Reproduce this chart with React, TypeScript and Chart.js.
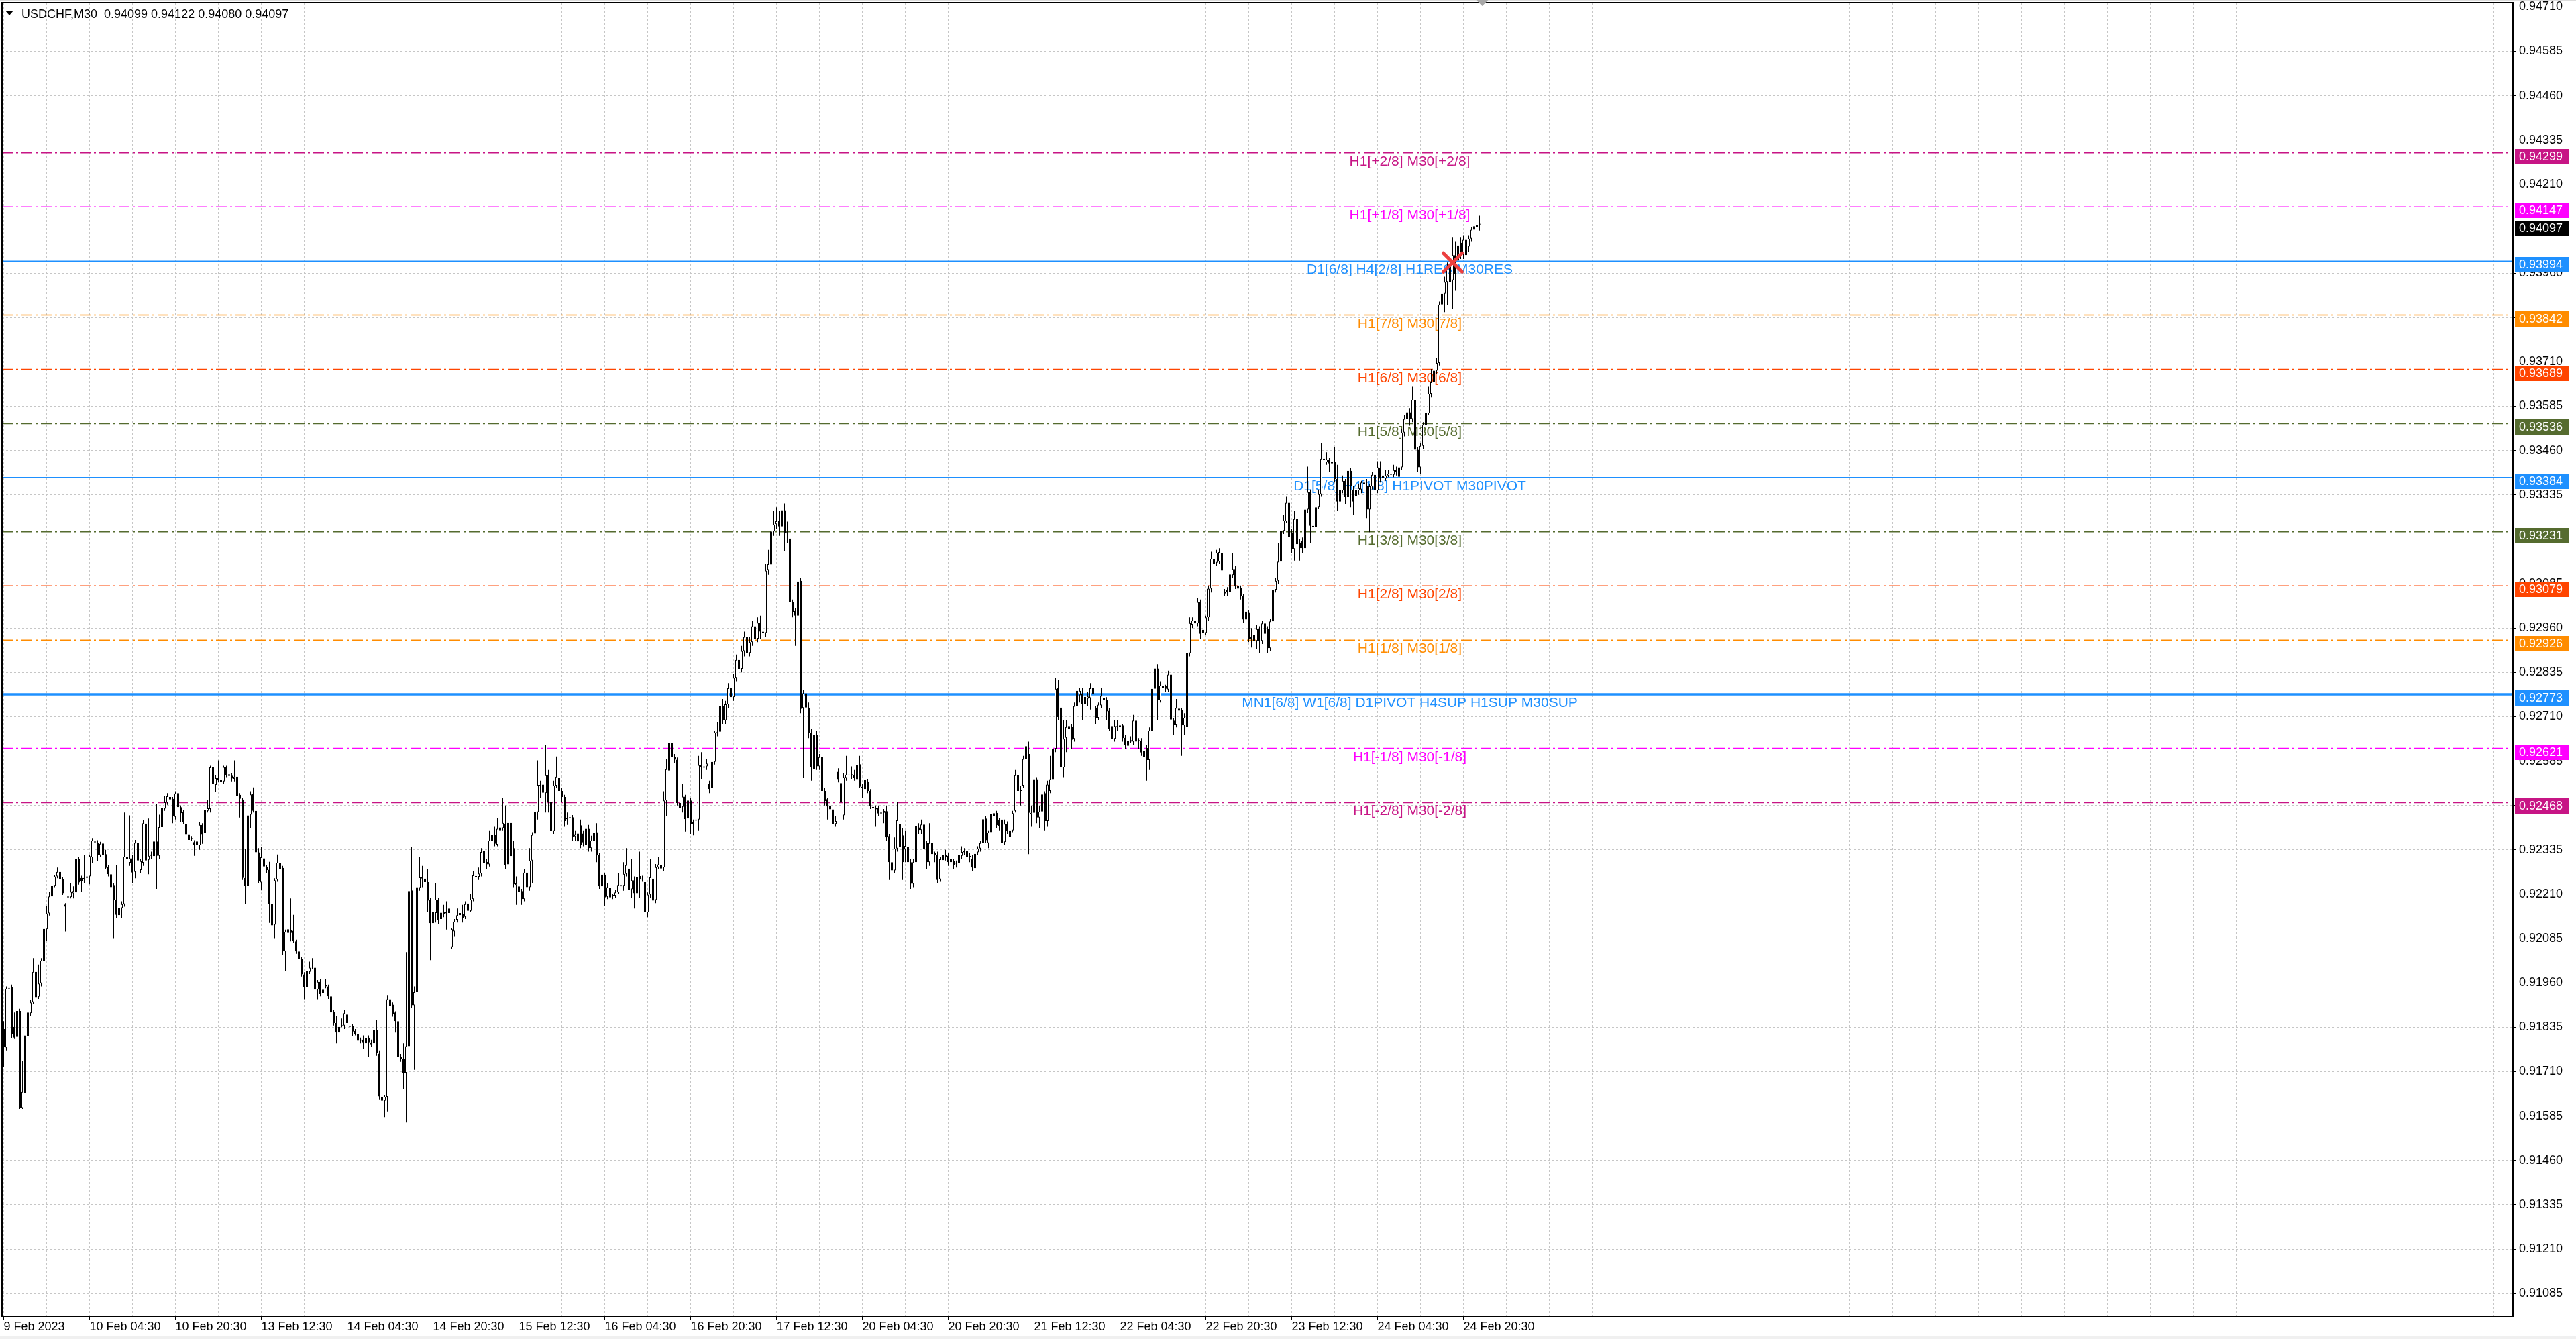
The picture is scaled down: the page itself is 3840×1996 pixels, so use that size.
import React, { useEffect, useRef } from "react";
import { Chart, registerables } from "chart.js";

Chart.register(...registerables);

// ---------------- DATA (USDCHF, M30) ----------------
const OPEN = [
.91830,.91778,.91944,.91948,.91836,.91808,.91881,.91608,.91649,.91810,
.91875,.91906,.91991,.91921,.91959,.92023,.92111,.92156,.92204,.92234,
.92260,.92273,.92253,.92181,.92201,.92202,.92213,.92215,.92309,.92256,
.92253,.92256,.92260,.92314,.92359,.92355,.92320,.92353,.92323,.92287,
.92266,.92236,.92193,.92151,.92171,.92182,.92316,.92299,.92311,.92273,
.92355,.92278,.92299,.92409,.92307,.92318,.92317,.92359,.92318,.92399,
.92451,.92469,.92484,.92479,.92428,.92495,.92455,.92441,.92408,.92379,
.92368,.92357,.92348,.92348,.92405,.92382,.92445,.92450,.92568,.92518,
.92539,.92533,.92528,.92567,.92548,.92544,.92535,.92541,.92490,.92477,
.92256,.92234,.92434,.92492,.92445,.92328,.92243,.92311,.92287,.92279,
.92182,.92124,.92251,.92299,.92284,.92049,.92101,.92109,.92107,.92077,
.92049,.92027,.91984,.91948,.91991,.92004,.92003,.91941,.91963,.91932,
.91950,.91950,.91922,.91879,.91847,.91820,.91838,.91840,.91871,.91838,
.91838,.91825,.91817,.91797,.91800,.91790,.91806,.91791,.91790,.91827,
.91761,.91639,.91628,.91639,.91914,.91899,.91877,.91852,.91752,.91745,
.91707,.91782,.92221,.91897,.91934,.92228,.92257,.92254,.92244,.92194,
.92128,.92157,.92195,.92140,.92159,.92156,.92157,.92061,.92105,.92138,
.92151,.92155,.92146,.92184,.92163,.92196,.92258,.92259,.92268,.92331,
.92301,.92294,.92361,.92377,.92350,.92390,.92396,.92407,.92294,.92411,
.92340,.92236,.92232,.92219,.92196,.92271,.92230,.92305,.92381,.92441,
.92518,.92519,.92495,.92545,.92470,.92388,.92516,.92539,.92501,.92484,
.92425,.92425,.92427,.92373,.92381,.92404,.92381,.92348,.92394,.92340,
.92361,.92385,.92321,.92232,.92265,.92203,.92228,.92205,.92206,.92215,
.92236,.92234,.92267,.92282,.92224,.92249,.92213,.92261,.92251,.92244,
.92159,.92209,.92254,.92194,.92286,.92292,.92285,.92474,.92558,.92637,
.92596,.92589,.92467,.92456,.92485,.92423,.92474,.92413,.92417,.92420,
.92574,.92566,.92570,.92522,.92510,.92583,.92666,.92668,.92740,.92700,
.92745,.92790,.92765,.92820,.92870,.92845,.92895,.92935,.92890,.92920,
.92965,.92930,.92975,.92950,.92946,.93124,.93139,.93232,.93253,.93261,
.93246,.93292,.93228,.93212,.93033,.93008,.92995,.93093,.92735,.92776,
.92736,.92665,.92563,.92658,.92570,.92596,.92501,.92478,.92460,.92449,
.92408,.92555,.92523,.92432,.92538,.92547,.92545,.92545,.92534,.92576,
.92513,.92506,.92528,.92501,.92456,.92454,.92454,.92437,.92445,.92444,
.92374,.92300,.92277,.92339,.92408,.92376,.92337,.92343,.92300,.92239,
.92300,.92398,.92391,.92406,.92354,.92300,.92354,.92326,.92321,.92252,
.92306,.92320,.92318,.92308,.92303,.92296,.92297,.92318,.92328,.92333,
.92316,.92310,.92283,.92328,.92339,.92354,.92423,.92354,.92385,.92431,
.92439,.92418,.92420,.92357,.92408,.92372,.92390,.92445,.92545,.92505,
.92516,.92590,.92605,.92435,.92439,.92534,.92426,.92443,.92495,.92416,
.92501,.92534,.92620,.92790,.92736,.92567,.92651,.92676,.92681,.92648,
.92740,.92771,.92775,.92746,.92761,.92763,.92775,.92736,.92707,.92742,
.92763,.92757,.92727,.92684,.92648,.92684,.92682,.92686,.92651,.92628,
.92640,.92640,.92699,.92641,.92642,.92613,.92622,.92588,.92671,.92789,
.92846,.92756,.92790,.92796,.92787,.92829,.92699,.92688,.92733,.92729,
.92686,.92682,.92889,.92970,.92981,.92973,.93033,.92955,.92946,.92990,
.93071,.93155,.93144,.93147,.93172,.93057,.93066,.93061,.93109,.93126,
.93080,.93073,.93050,.93006,.93003,.92935,.92941,.92924,.92957,.92924,
.92973,.92957,.92903,.92979,.93068,.93093,.93147,.93234,.93261,.93313,
.93229,.93183,.93267,.93201,.93205,.93185,.93294,.93343,.93248,.93245,
.93300,.93337,.93433,.93427,.93435,.93424,.93428,.93380,.93316,.93348,
.93375,.93329,.93403,.93350,.93332,.93348,.93350,.93370,.93359,.93294,
.93359,.93392,.93348,.93411,.93382,.93381,.93390,.93395,.93392,.93405,
.93386,.93413,.93511,.93549,.93568,.93549,.93603,.93462,.93413,.93473,
.93533,.93565,.93620,.93652,.93685,.93707,.93872,.93902,.93935,.93978,
.93940,.94011,.93995,.94046,.94016,.94054,.94035,.94057,.94082,.94090,
.94099,
];

const HIGH = [
.91852,.91950,.92019,.91955,.91877,.91889,.91887,.91740,.91838,.91881,
.91912,.92030,.92039,.92012,.92030,.92124,.92178,.92217,.92240,.92264,
.92285,.92280,.92258,.92185,.92213,.92241,.92232,.92316,.92315,.92262,
.92320,.92305,.92322,.92368,.92376,.92362,.92358,.92360,.92335,.92292,
.92270,.92240,.92292,.92180,.92190,.92440,.92337,.92432,.92320,.92363,
.92362,.92310,.92419,.92440,.92423,.92330,.92441,.92464,.92434,.92460,
.92488,.92495,.92495,.92484,.92500,.92531,.92460,.92447,.92412,.92384,
.92374,.92362,.92393,.92412,.92410,.92455,.92475,.92572,.92597,.92545,
.92587,.92540,.92572,.92572,.92555,.92550,.92587,.92560,.92495,.92480,
.92337,.92440,.92500,.92511,.92512,.92340,.92344,.92340,.92292,.92301,
.92188,.92255,.92322,.92346,.92290,.92110,.92118,.92198,.92152,.92082,
.92055,.92033,.91990,.92000,.92020,.92030,.92010,.91968,.91970,.91960,
.91970,.91955,.91928,.91884,.91866,.91840,.91860,.91884,.91876,.91845,
.91843,.91830,.91822,.91806,.91812,.91812,.91812,.91800,.91860,.91855,
.91770,.91645,.91645,.91926,.91951,.91905,.91880,.91856,.91760,.91790,
.92047,.92250,.92343,.91950,.92300,.92315,.92290,.92282,.92280,.92200,
.92190,.92240,.92200,.92163,.92180,.92190,.92175,.92115,.92140,.92170,
.92165,.92180,.92190,.92195,.92210,.92275,.92270,.92285,.92340,.92390,
.92310,.92390,.92395,.92400,.92425,.92455,.92481,.92460,.92460,.92440,
.92360,.92260,.92240,.92225,.92280,.92280,.92340,.92385,.92630,.92587,
.92530,.92560,.92630,.92560,.92515,.92530,.92598,.92550,.92510,.92490,
.92440,.92435,.92433,.92390,.92395,.92420,.92390,.92410,.92405,.92375,
.92410,.92410,.92325,.92270,.92270,.92240,.92233,.92212,.92222,.92270,
.92245,.92300,.92340,.92320,.92310,.92260,.92300,.92330,.92262,.92265,
.92215,.92310,.92262,.92295,.92315,.92300,.92500,.92590,.92720,.92660,
.92605,.92595,.92470,.92520,.92490,.92485,.92480,.92420,.92430,.92600,
.92610,.92610,.92590,.92530,.92590,.92670,.92695,.92750,.92760,.92755,
.92805,.92810,.92830,.92885,.92890,.92910,.92950,.92945,.92935,.92980,
.92975,.92990,.92995,.92965,.93140,.93180,.93240,.93290,.93300,.93290,
.93323,.93311,.93260,.93230,.93040,.93015,.93118,.93100,.92785,.92790,
.92750,.92675,.92680,.92670,.92605,.92600,.92510,.92482,.92465,.92453,
.92430,.92565,.92530,.92550,.92600,.92580,.92570,.92560,.92594,.92600,
.92520,.92548,.92535,.92506,.92465,.92460,.92460,.92450,.92450,.92460,
.92380,.92310,.92370,.92470,.92440,.92395,.92390,.92350,.92310,.92310,
.92445,.92410,.92420,.92413,.92360,.92410,.92360,.92330,.92330,.92315,
.92330,.92335,.92325,.92315,.92310,.92305,.92330,.92345,.92340,.92340,
.92325,.92320,.92330,.92345,.92360,.92470,.92430,.92390,.92455,.92445,
.92445,.92425,.92430,.92420,.92415,.92400,.92445,.92560,.92590,.92515,
.92600,.92721,.92640,.92460,.92560,.92540,.92460,.92525,.92500,.92530,
.92600,.92660,.92820,.92815,.92750,.92700,.92700,.92710,.92690,.92750,
.92820,.92790,.92790,.92775,.92780,.92805,.92800,.92740,.92750,.92790,
.92775,.92765,.92735,.92690,.92700,.92700,.92700,.92690,.92660,.92650,
.92655,.92715,.92705,.92650,.92650,.92620,.92630,.92680,.92870,.92858,
.92858,.92810,.92805,.92800,.92840,.92840,.92705,.92760,.92740,.92735,
.92720,.92900,.92990,.92990,.92995,.93044,.93040,.92960,.92995,.93080,
.93175,.93180,.93180,.93185,.93180,.93070,.93075,.93120,.93170,.93135,
.93085,.93080,.93055,.93020,.93010,.92960,.92950,.92970,.92965,.92980,
.92980,.92965,.92985,.93080,.93100,.93200,.93260,.93280,.93330,.93320,
.93240,.93290,.93275,.93210,.93215,.93310,.93415,.93350,.93260,.93310,
.93350,.93480,.93460,.93455,.93440,.93445,.93470,.93420,.93360,.93390,
.93380,.93430,.93410,.93360,.93380,.93365,.93375,.93380,.93380,.93365,
.93400,.93410,.93430,.93430,.93400,.93405,.93405,.93402,.93420,.93415,
.93440,.93520,.93560,.93650,.93580,.93640,.93640,.93470,.93480,.93540,
.93575,.93640,.93690,.93700,.93720,.93880,.93910,.93950,.93990,.94020,
.94060,.94050,.94060,.94060,.94065,.94070,.94065,.94090,.94100,.94105,
.94122,
];

const LOW = [
.91724,.91770,.91896,.91805,.91802,.91800,.91605,.91605,.91640,.91733,
.91868,.91900,.91912,.91915,.91950,.92008,.92079,.92150,.92198,.92230,
.92255,.92234,.92208,.92105,.92189,.92198,.92198,.92210,.92237,.92217,
.92242,.92241,.92238,.92299,.92350,.92303,.92315,.92299,.92280,.92260,
.92225,.92086,.92142,.91982,.92142,.92175,.92217,.92290,.92240,.92255,
.92298,.92270,.92290,.92298,.92266,.92310,.92266,.92225,.92310,.92390,
.92445,.92462,.92470,.92410,.92420,.92448,.92413,.92408,.92370,.92355,
.92360,.92318,.92318,.92335,.92352,.92363,.92440,.92440,.92510,.92498,
.92525,.92510,.92520,.92540,.92520,.92528,.92528,.92482,.92426,.92250,
.92183,.92220,.92396,.92440,.92320,.92240,.92221,.92282,.92270,.92129,
.92115,.92086,.92245,.92270,.92040,.91993,.92095,.92077,.92072,.92042,
.92020,.91978,.91914,.91940,.91985,.91998,.91935,.91914,.91922,.91925,
.91945,.91915,.91870,.91840,.91790,.91780,.91835,.91830,.91815,.91830,
.91810,.91812,.91785,.91790,.91775,.91782,.91752,.91780,.91710,.91755,
.91632,.91612,.91582,.91598,.91890,.91865,.91820,.91745,.91738,.91660,
.91567,.91700,.91890,.91715,.91925,.92220,.92230,.92200,.92160,.92024,
.92085,.92130,.92125,.92110,.92145,.92110,.92150,.92055,.92090,.92130,
.92140,.92130,.92140,.92155,.92160,.92190,.92240,.92250,.92260,.92290,
.92280,.92288,.92340,.92345,.92345,.92385,.92390,.92280,.92270,.92310,
.92230,.92180,.92157,.92180,.92190,.92157,.92220,.92240,.92375,.92420,
.92480,.92460,.92440,.92440,.92350,.92380,.92510,.92490,.92470,.92400,
.92405,.92415,.92360,.92360,.92350,.92340,.92345,.92340,.92330,.92330,
.92355,.92300,.92225,.92200,.92176,.92196,.92195,.92196,.92200,.92210,
.92225,.92220,.92260,.92196,.92200,.92170,.92205,.92200,.92245,.92145,
.92145,.92200,.92180,.92185,.92280,.92240,.92275,.92430,.92545,.92570,
.92580,.92460,.92425,.92440,.92386,.92415,.92380,.92376,.92370,.92390,
.92535,.92540,.92560,.92495,.92500,.92575,.92655,.92660,.92690,.92690,
.92735,.92750,.92755,.92810,.92830,.92835,.92880,.92875,.92880,.92910,
.92915,.92920,.92930,.92925,.92935,.93110,.93130,.93220,.93240,.93220,
.93230,.93176,.93200,.93020,.92990,.92910,.92985,.92720,.92537,.92600,
.92650,.92530,.92540,.92560,.92560,.92480,.92460,.92420,.92430,.92398,
.92400,.92525,.92460,.92420,.92530,.92495,.92535,.92530,.92525,.92510,
.92480,.92490,.92495,.92450,.92445,.92400,.92430,.92425,.92410,.92360,
.92250,.92204,.92270,.92330,.92320,.92250,.92300,.92260,.92225,.92230,
.92290,.92380,.92380,.92325,.92280,.92290,.92310,.92300,.92240,.92245,
.92298,.92305,.92290,.92290,.92280,.92285,.92290,.92310,.92320,.92300,
.92300,.92275,.92275,.92320,.92330,.92345,.92355,.92340,.92380,.92420,
.92395,.92390,.92345,.92350,.92380,.92365,.92385,.92440,.92485,.92460,
.92510,.92580,.92323,.92400,.92380,.92410,.92395,.92430,.92390,.92400,
.92495,.92525,.92610,.92700,.92475,.92540,.92610,.92660,.92620,.92640,
.92730,.92750,.92700,.92735,.92740,.92730,.92770,.92690,.92700,.92735,
.92745,.92700,.92670,.92620,.92640,.92670,.92675,.92640,.92620,.92620,
.92635,.92630,.92630,.92620,.92600,.92580,.92530,.92560,.92660,.92780,
.92700,.92750,.92780,.92780,.92780,.92640,.92660,.92680,.92700,.92600,
.92660,.92670,.92880,.92960,.92965,.92965,.92930,.92930,.92940,.92980,
.93060,.93130,.93135,.93140,.93115,.93050,.93050,.93050,.93100,.93070,
.93060,.93040,.92975,.92960,.92920,.92905,.92910,.92900,.92890,.92915,
.92935,.92890,.92895,.92970,.93060,.93085,.93140,.93225,.93255,.93190,
.93170,.93150,.93160,.93150,.93170,.93150,.93285,.93200,.93195,.93240,
.93295,.93330,.93410,.93420,.93400,.93415,.93370,.93290,.93290,.93340,
.93310,.93320,.93300,.93280,.93320,.93335,.93340,.93355,.93270,.93230,
.93350,.93300,.93340,.93370,.93370,.93375,.93385,.93385,.93385,.93390,
.93370,.93405,.93500,.93540,.93530,.93540,.93440,.93400,.93395,.93465,
.93525,.93560,.93610,.93640,.93675,.93700,.93860,.93850,.93870,.93880,
.93860,.93910,.93930,.94000,.94000,.93990,.94020,.94050,.94075,.94085,
.94080,
];

const CLOSE = [
.91780,.91944,.91946,.91815,.91806,.91881,.91608,.91653,.91812,.91877,
.91905,.91991,.91920,.91958,.92023,.92112,.92156,.92204,.92234,.92260,
.92273,.92253,.92213,.92175,.92204,.92217,.92219,.92309,.92243,.92247,
.92256,.92260,.92317,.92361,.92356,.92320,.92352,.92320,.92284,.92266,
.92230,.92193,.92152,.92172,.92182,.92316,.92310,.92311,.92271,.92355,
.92305,.92303,.92410,.92305,.92318,.92322,.92359,.92318,.92399,.92452,
.92469,.92486,.92477,.92430,.92494,.92455,.92438,.92414,.92379,.92363,
.92366,.92348,.92359,.92405,.92379,.92447,.92452,.92567,.92520,.92537,
.92531,.92526,.92568,.92546,.92543,.92536,.92541,.92488,.92479,.92256,
.92234,.92432,.92491,.92445,.92328,.92246,.92314,.92288,.92278,.92182,
.92122,.92249,.92299,.92281,.92049,.92104,.92111,.92101,.92079,.92049,
.92027,.91984,.91948,.91993,.92003,.92006,.91941,.91963,.91929,.91941,
.91954,.91922,.91877,.91847,.91820,.91836,.91841,.91875,.91847,.91836,
.91823,.91817,.91797,.91800,.91791,.91805,.91791,.91787,.91827,.91763,
.91640,.91628,.91639,.91914,.91896,.91873,.91852,.91752,.91745,.91707,
.91782,.92219,.91897,.91934,.92230,.92257,.92254,.92244,.92192,.92128,
.92159,.92195,.92138,.92158,.92155,.92160,.92170,.92111,.92133,.92151,
.92157,.92142,.92182,.92163,.92195,.92263,.92261,.92268,.92329,.92298,
.92294,.92361,.92377,.92352,.92394,.92398,.92411,.92292,.92411,.92317,
.92238,.92240,.92217,.92196,.92271,.92230,.92305,.92377,.92441,.92518,
.92516,.92496,.92545,.92470,.92388,.92516,.92541,.92501,.92484,.92416,
.92421,.92427,.92371,.92379,.92359,.92348,.92356,.92394,.92340,.92361,
.92384,.92319,.92232,.92265,.92201,.92230,.92201,.92208,.92215,.92236,
.92232,.92267,.92292,.92222,.92249,.92213,.92259,.92251,.92254,.92159,
.92209,.92257,.92192,.92286,.92294,.92282,.92474,.92562,.92637,.92596,
.92589,.92467,.92454,.92485,.92421,.92474,.92407,.92407,.92420,.92574,
.92568,.92570,.92578,.92506,.92583,.92666,.92668,.92740,.92700,.92745,
.92790,.92765,.92820,.92870,.92845,.92895,.92935,.92890,.92920,.92965,
.92930,.92975,.92950,.92946,.93122,.93140,.93232,.93252,.93261,.93246,
.93292,.93228,.93230,.93033,.93005,.92995,.93091,.92732,.92776,.92736,
.92665,.92567,.92658,.92570,.92596,.92501,.92472,.92457,.92449,.92408,
.92416,.92534,.92468,.92540,.92547,.92545,.92548,.92537,.92574,.92513,
.92509,.92532,.92501,.92459,.92452,.92449,.92437,.92440,.92439,.92370,
.92300,.92277,.92339,.92418,.92343,.92300,.92346,.92300,.92239,.92300,
.92401,.92391,.92406,.92337,.92300,.92354,.92323,.92320,.92250,.92308,
.92320,.92316,.92300,.92300,.92293,.92299,.92320,.92329,.92331,.92316,
.92318,.92285,.92324,.92339,.92354,.92421,.92362,.92384,.92435,.92438,
.92404,.92401,.92354,.92408,.92389,.92390,.92438,.92545,.92501,.92501,
.92591,.92627,.92439,.92439,.92534,.92426,.92443,.92491,.92416,.92519,
.92534,.92619,.92789,.92709,.92567,.92648,.92681,.92684,.92645,.92740,
.92783,.92783,.92746,.92766,.92767,.92790,.92790,.92707,.92744,.92769,
.92756,.92725,.92676,.92648,.92684,.92681,.92686,.92650,.92630,.92642,
.92644,.92699,.92640,.92644,.92609,.92597,.92588,.92671,.92789,.92846,
.92756,.92798,.92796,.92789,.92829,.92702,.92688,.92735,.92727,.92686,
.92707,.92889,.92974,.92981,.92973,.93033,.92944,.92946,.92990,.93071,
.93155,.93142,.93172,.93174,.93122,.93061,.93061,.93111,.93126,.93077,
.93071,.93050,.92984,.92984,.92930,.92930,.92924,.92957,.92924,.92973,
.92944,.92903,.92979,.93068,.93093,.93147,.93234,.93263,.93313,.93216,
.93183,.93267,.93196,.93185,.93185,.93294,.93343,.93248,.93245,.93300,
.93337,.93437,.93437,.93435,.93424,.93428,.93380,.93316,.93348,.93375,
.93329,.93403,.93359,.93316,.93348,.93354,.93370,.93365,.93294,.93359,
.93392,.93348,.93413,.93381,.93390,.93390,.93395,.93392,.93405,.93400,
.93413,.93511,.93549,.93568,.93549,.93603,.93462,.93413,.93473,.93533,
.93565,.93620,.93652,.93685,.93707,.93872,.93902,.93935,.93973,.93935,
.94011,.93957,.94038,.94016,.94054,.94011,.94057,.94082,.94092,.94096,
.94097,
];

// time-axis labels, one every 32 bars starting at bar 0
const DATE_LABELS = [
  "9 Feb 2023", "10 Feb 04:30", "10 Feb 20:30", "13 Feb 12:30", "14 Feb 04:30",
  "14 Feb 20:30", "15 Feb 12:30", "16 Feb 04:30", "16 Feb 20:30", "17 Feb 12:30",
  "20 Feb 04:30", "20 Feb 20:30", "21 Feb 12:30", "22 Feb 04:30", "22 Feb 20:30",
  "23 Feb 12:30", "24 Feb 04:30", "24 Feb 20:30",
];
const DATE_LABEL_EVERY = 32;
const GRID_EVERY = 16;

const PRICE_TICKS = [
  0.94710, 0.94585, 0.94460, 0.94335, 0.94210, 0.94085, 0.93960, 0.93835,
  0.93710, 0.93585, 0.93460, 0.93335, 0.93210, 0.93085, 0.92960, 0.92835,
  0.92710, 0.92585, 0.92460, 0.92335, 0.92210, 0.92085, 0.91960, 0.91835,
  0.91710, 0.91585, 0.91460, 0.91335, 0.91210, 0.91085,
];

const LEVEL_PRICES = [
  0.94299, 0.94147, 0.93994, 0.93842, 0.93689, 0.93536, 0.93384,
  0.93231, 0.93079, 0.92926, 0.92773, 0.92621, 0.92468,
];
const LEVEL_TEXTS = [
  "H1[+2/8] M30[+2/8]",
  "H1[+1/8] M30[+1/8]",
  "D1[6/8] H4[2/8] H1RES M30RES",
  "H1[7/8] M30[7/8]",
  "H1[6/8] M30[6/8]",
  "H1[5/8] M30[5/8]",
  "D1[5/8] H4[1/8] H1PIVOT M30PIVOT",
  "H1[3/8] M30[3/8]",
  "H1[2/8] M30[2/8]",
  "H1[1/8] M30[1/8]",
  "MN1[6/8] W1[6/8] D1PIVOT H4SUP H1SUP M30SUP",
  "H1[-1/8] M30[-1/8]",
  "H1[-2/8] M30[-2/8]",
];
const LEVEL_COLORS = [
  "#C71585", "#FF00FF", "#1E90FF", "#FF8C00", "#FF4500", "#556B2F", "#1E90FF",
  "#556B2F", "#FF4500", "#FF8C00", "#1E90FF", "#FF00FF", "#C71585",
];
const LEVEL_KIND = [
  "dashdot", "dashdot", "solid", "dashdot", "dashdot", "dashdot", "solid",
  "dashdot", "dashdot", "dashdot", "thick", "dashdot", "dashdot",
];

const TITLE = "USDCHF,M30  0.94099 0.94122 0.94080 0.94097";
const LAST_PRICE = 0.94097;
const MARK_BAR = 540;
const MARK_PRICE = 0.9399;
const LEVEL_TEXT_BAR = 524;

// ---------------- STYLE ----------------
const W = 3840;
const H = 1996;
const UI_FONT = "'Liberation Sans', Arial, sans-serif";
const GRID_COLOR = "#c6c6c6";

const n = Math.min(OPEN.length, HIGH.length, LOW.length, CLOSE.length);

const mt4Plugin = {
  id: "mt4",
  beforeDraw(chart: any) {
    const ctx = chart.ctx;
    ctx.save();
    ctx.fillStyle = "#ffffff";
    ctx.fillRect(0, 0, chart.width, chart.height);
    ctx.fillStyle = "#f0f0f0";
    ctx.fillRect(0, 1991, chart.width, chart.height - 1991);
    ctx.fillStyle = "#dcdcdc";
    ctx.fillRect(0, 0, chart.width, 2);
    ctx.restore();
  },
  beforeDatasetsDraw(chart: any) {
    const { ctx, chartArea: a, scales } = chart;
    const x = scales.x;
    const y = scales.y;
    ctx.save();
    ctx.beginPath();
    ctx.rect(a.left, a.top, a.right - a.left, a.bottom - a.top);
    ctx.clip();

    // current price line
    const lp = Math.round(y.getPixelForValue(LAST_PRICE)) + 0.5;
    ctx.strokeStyle = "#c0c0c0";
    ctx.lineWidth = 1;
    ctx.setLineDash([]);
    ctx.beginPath();
    ctx.moveTo(a.left, lp);
    ctx.lineTo(a.right, lp);
    ctx.stroke();

    LEVEL_PRICES.forEach((p, k) => {
      const py = y.getPixelForValue(p);
      const kind = LEVEL_KIND[k];
      ctx.strokeStyle = LEVEL_COLORS[k];
      ctx.lineWidth = kind === "thick" ? 3.5 : 1.5;
      ctx.setLineDash(kind === "dashdot" ? [16, 5, 3, 5] : []);
      ctx.beginPath();
      ctx.moveTo(a.left, py);
      ctx.lineTo(a.right, py);
      ctx.stroke();
    });
    ctx.setLineDash([]);

    ctx.font = `21px ${UI_FONT}`;
    ctx.textAlign = "center";
    ctx.textBaseline = "alphabetic";
    const tx = x.getPixelForValue(LEVEL_TEXT_BAR);
    LEVEL_PRICES.forEach((p, k) => {
      ctx.fillStyle = LEVEL_COLORS[k];
      ctx.fillText(LEVEL_TEXTS[k], tx, y.getPixelForValue(p) + 19);
    });
    ctx.restore();
  },
  afterDatasetsDraw(chart: any) {
    const { ctx, scales } = chart;
    const cx = scales.x.getPixelForValue(MARK_BAR);
    const cy = scales.y.getPixelForValue(MARK_PRICE);
    const r = 14;
    ctx.save();
    ctx.strokeStyle = "#ec3f3f";
    ctx.lineWidth = 5;
    ctx.lineCap = "round";
    ctx.beginPath();
    ctx.moveTo(cx - r, cy - r);
    ctx.lineTo(cx + r, cy + r);
    ctx.moveTo(cx + r, cy - r);
    ctx.lineTo(cx - r, cy + r);
    ctx.stroke();
    ctx.restore();
  },
  afterDraw(chart: any) {
    const { ctx, chartArea: a, scales } = chart;
    const y = scales.y;
    const x = scales.x;
    ctx.save();
    // frame
    ctx.strokeStyle = "#000000";
    ctx.lineWidth = 2;
    ctx.strokeRect(a.left, a.top, a.right - a.left, a.bottom - a.top);

    // price tags on the axis
    ctx.font = `18px ${UI_FONT}`;
    ctx.textAlign = "left";
    ctx.textBaseline = "middle";
    const tag = (price: number, color: string) => {
      const py = Math.round(y.getPixelForValue(price)) + 5;
      ctx.fillStyle = color;
      ctx.fillRect(a.right + 3, py - 11, 80, 23);
      ctx.fillStyle = "#ffffff";
      ctx.fillText(price.toFixed(5), a.right + 9, py + 1);
    };
    LEVEL_PRICES.forEach((p, k) => tag(p, LEVEL_COLORS[k]));
    tag(LAST_PRICE, "#000000");

    // title
    ctx.fillStyle = "#000000";
    ctx.beginPath();
    ctx.moveTo(8, 16);
    ctx.lineTo(20, 16);
    ctx.lineTo(14, 23);
    ctx.closePath();
    ctx.fill();
    ctx.textBaseline = "alphabetic";
    ctx.fillText(TITLE, 32, 27);

    // chart shift marker
    const sx = x.getPixelForValue(n);
    ctx.fillStyle = "#a8a8a8";
    ctx.beginPath();
    ctx.moveTo(sx - 9, 0);
    ctx.lineTo(sx + 9, 0);
    ctx.lineTo(sx, 9);
    ctx.closePath();
    ctx.fill();
    ctx.restore();
  },
};

export default function App() {
  const ref = useRef<HTMLCanvasElement | null>(null);

  useEffect(() => {
    document.body.style.margin = "0";
    document.body.style.overflow = "hidden";
    const canvas = ref.current;
    if (!canvas) return;

    const bodies: any[] = [];
    const wicks: any[] = [];
    const fills: string[] = [];
    for (let i = 0; i < n; i++) {
      bodies.push({ x: i, y: [OPEN[i], CLOSE[i]] });
      wicks.push({ x: i, y: [LOW[i], HIGH[i]] });
      fills.push(CLOSE[i] >= OPEN[i] ? "#ffffff" : "#000000");
    }

    const xTicks: number[] = [];
    for (let v = 0; v <= 935; v += GRID_EVERY) xTicks.push(v);

    const dateFor = (v: number) => {
      if (v % DATE_LABEL_EVERY !== 0) return "";
      const k = v / DATE_LABEL_EVERY;
      return k < DATE_LABELS.length ? DATE_LABELS[k] : "";
    };

    const chart = new Chart(canvas, {
      type: "bar",
      data: {
        datasets: [
          {
            label: "body",
            data: bodies,
            backgroundColor: fills,
            borderColor: "#000000",
            borderWidth: 1,
            borderSkipped: false,
            barThickness: 3,
            minBarLength: 1,
            grouped: false,
            inflateAmount: 0,
            order: 1,
          } as any,
          {
            label: "wick",
            data: wicks,
            backgroundColor: "#000000",
            borderWidth: 0,
            barThickness: 1,
            grouped: false,
            inflateAmount: 0,
            order: 2,
          } as any,
        ],
      },
      options: {
        animation: false,
        responsive: false,
        devicePixelRatio: 1,
        events: [],
        layout: { autoPadding: false, padding: { left: 3, top: 4, right: 0, bottom: 0 } },
        plugins: { legend: { display: false }, tooltip: { enabled: false } },
        scales: {
          x: {
            type: "linear",
            position: "bottom",
            min: -0.625,
            max: 935.125,
            offset: false,
            afterBuildTicks: (s: any) => {
              s.ticks = xTicks.map((v) => ({ value: v }));
            },
            afterFit: (s: any) => {
              s.height = 34;
              s.paddingLeft = 0;
              s.paddingRight = 0;
              s.paddingTop = 0;
              s.paddingBottom = 0;
            },
            grid: {
              offset: false,
              color: GRID_COLOR,
              lineWidth: 1,
              drawTicks: true,
              tickLength: 5,
              tickWidth: 1,
              tickColor: (c: any) =>
                c.tick && dateFor(c.tick.value) !== "" ? "#000000" : "rgba(0,0,0,0)",
            },
            border: { display: false, dash: [3, 3] },
            ticks: {
              autoSkip: false,
              maxRotation: 0,
              minRotation: 0,
              align: "start",
              padding: 0,
              color: "#000000",
              font: { family: UI_FONT, size: 18 },
              callback: (v: any) => dateFor(Number(v)),
            },
          } as any,
          y: {
            type: "linear",
            position: "right",
            min: 0.91021,
            max: 0.94722,
            afterBuildTicks: (s: any) => {
              s.ticks = PRICE_TICKS.map((v) => ({ value: v }));
            },
            afterFit: (s: any) => {
              s.width = 94;
              s.paddingLeft = 0;
              s.paddingRight = 0;
              s.paddingTop = 0;
              s.paddingBottom = 0;
            },
            grid: {
              color: GRID_COLOR,
              lineWidth: 1,
              drawTicks: true,
              tickLength: 5,
              tickWidth: 1,
              tickColor: "#000000",
            },
            border: { display: false, dash: [3, 3] },
            ticks: {
              autoSkip: false,
              padding: 4,
              color: "#000000",
              font: { family: UI_FONT, size: 18 },
              callback: (v: any) => Number(v).toFixed(5),
            },
          } as any,
        },
      },
      plugins: [mt4Plugin as any],
    });

    return () => chart.destroy();
  }, []);

  return (
    <div style={{ width: W, height: H, overflow: "hidden", background: "#ffffff" }}>
      <canvas ref={ref} width={W} height={H} style={{ display: "block", width: W, height: H }} />
    </div>
  );
}
